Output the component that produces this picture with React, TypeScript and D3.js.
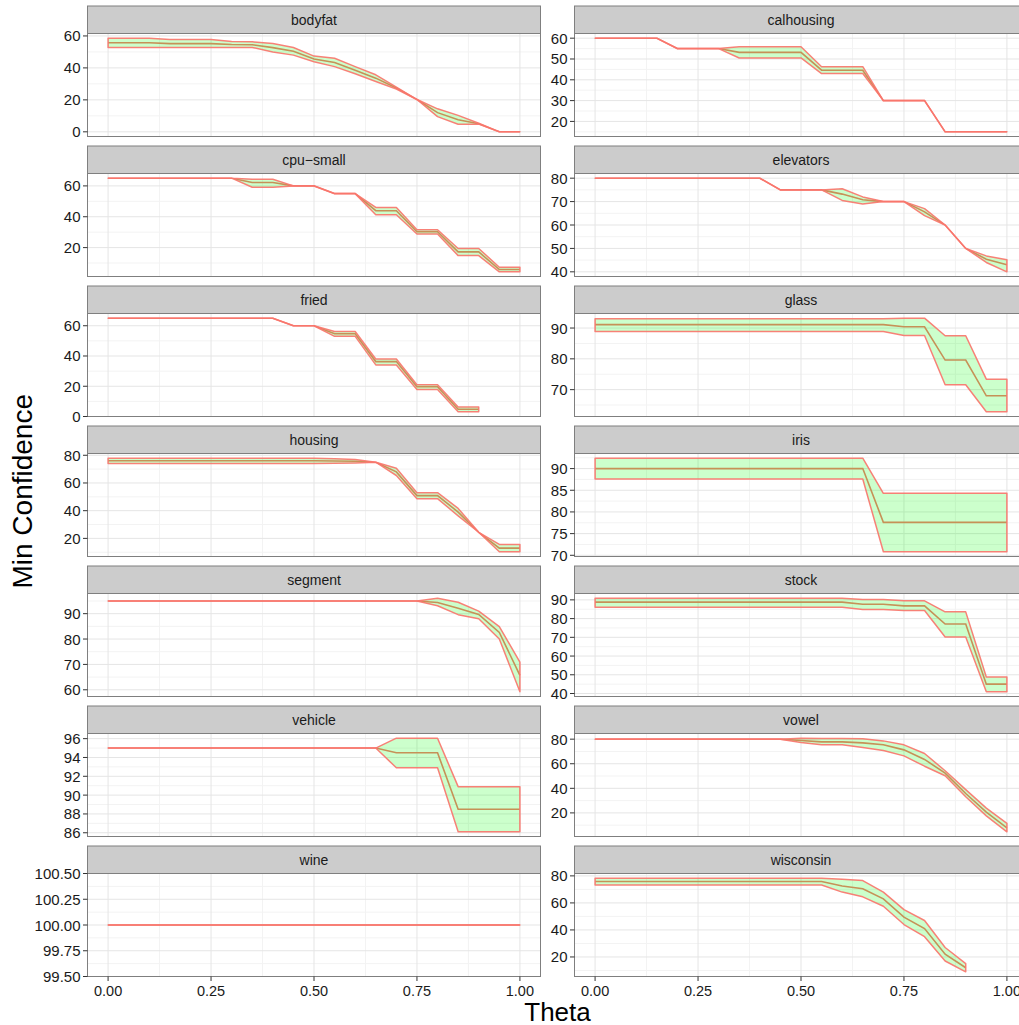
import React from 'react';
import * as d3 from 'd3';

// Theta values (x axis)
const THETA = [0, 0.05, 0.1, 0.15, 0.2, 0.25, 0.3, 0.35, 0.4, 0.45, 0.5, 0.55, 0.6, 0.65, 0.7, 0.75, 0.8, 0.85, 0.9, 0.95, 1.0];
const X_TICKS = [0, 0.25, 0.5, 0.75, 1.0];
const X_TICK_LABELS = ['0.00', '0.25', '0.50', '0.75', '1.00'];

// bodyfat
const bodyfatUpper = [58.6, 58.6, 58.6, 57.7, 57.7, 57.7, 56.5, 56.3, 55.3, 52.8, 47.4, 46.0, 40.8, 35.7, 28.0, 20.2, 14.4, 10.3, 5.4, 0, 0];
const bodyfatMean = [55.7, 55.7, 55.7, 55.2, 55.2, 55.2, 54.6, 54.5, 52.7, 50.4, 45.6, 43.4, 38.5, 33.6, 27.4, 20.2, 12.0, 7.5, 5.1, 0, 0];
const bodyfatLower = [52.8, 52.8, 52.8, 52.8, 52.8, 52.8, 52.8, 52.8, 50.0, 48.0, 43.9, 40.8, 36.3, 31.5, 26.8, 20.2, 9.5, 4.7, 4.8, 0, 0];
const bodyfatTicks = [0, 20, 40, 60];

// calhousing
const calhousingUpper = [60, 60, 60, 60, 55, 55, 55, 55.9, 55.9, 55.9, 55.9, 46.3, 46.3, 46.3, 30, 30, 30, 15, 15, 15, 15];
const calhousingMean = [60, 60, 60, 60, 55, 55, 55, 53.2, 53.2, 53.2, 53.2, 44.6, 44.6, 44.6, 30, 30, 30, 15, 15, 15, 15];
const calhousingLower = [60, 60, 60, 60, 55, 55, 55, 50.5, 50.5, 50.5, 50.5, 43.0, 43.0, 43.0, 30, 30, 30, 15, 15, 15, 15];
const calhousingTicks = [20, 30, 40, 50, 60];

// cpu-small
const cpuUpper = [65, 65, 65, 65, 65, 65, 65, 64.3, 64.3, 60, 60, 55, 55, 46.0, 46.0, 31.6, 31.6, 19.4, 19.4, 7.3, 7.3];
const cpuMean = [65, 65, 65, 65, 65, 65, 65, 62.2, 62.2, 60, 60, 55, 55, 43.9, 43.9, 30.3, 30.3, 17.2, 17.2, 5.8, 5.8];
const cpuLower = [65, 65, 65, 65, 65, 65, 65, 59.1, 59.1, 60, 60, 55, 55, 41.3, 41.3, 28.8, 28.8, 14.8, 14.8, 4.3, 4.3];
const cpuTicks = [20, 40, 60];

// elevators
const elevatorsUpper = [80, 80, 80, 80, 80, 80, 80, 80, 80, 75, 75, 75, 75.5, 72.0, 70, 70, 67.0, 60, 50, 46.8, 45.2];
const elevatorsMean = [80, 80, 80, 80, 80, 80, 80, 80, 80, 75, 75, 75, 73.2, 70.8, 70, 70, 65.6, 60, 50, 45.4, 43.0];
const elevatorsLower = [80, 80, 80, 80, 80, 80, 80, 80, 80, 75, 75, 75, 70.5, 69.0, 70, 70, 64.0, 60, 50, 44.0, 40.0];
const elevatorsTicks = [40, 50, 60, 70, 80];

// fried
const friedUpper = [65, 65, 65, 65, 65, 65, 65, 65, 65, 60, 60, 56.2, 56.2, 38.0, 38.0, 21.0, 21.0, 6.3, 6.3, null, null];
const friedMean = [65, 65, 65, 65, 65, 65, 65, 65, 65, 60, 60, 54.7, 54.7, 36.3, 36.3, 19.7, 19.7, 4.8, 4.8, null, null];
const friedLower = [65, 65, 65, 65, 65, 65, 65, 65, 65, 60, 60, 53.0, 53.0, 34.1, 34.1, 17.9, 17.9, 3.1, 3.1, null, null];
const friedTicks = [0, 20, 40, 60];

// glass
const glassUpper = [93, 93, 93, 93, 93, 93, 93, 93, 93, 93, 93, 93, 93, 93, 93, 93.2, 93.2, 87.5, 87.5, 73.4, 73.4];
const glassMean = [91.1, 91.1, 91.1, 91.1, 91.1, 91.1, 91.1, 91.1, 91.1, 91.1, 91.1, 91.1, 91.1, 91.1, 91.1, 90.4, 90.4, 79.6, 79.6, 68.0, 68.0];
const glassLower = [88.9, 88.9, 88.9, 88.9, 88.9, 88.9, 88.9, 88.9, 88.9, 88.9, 88.9, 88.9, 88.9, 88.9, 88.9, 87.6, 87.6, 71.6, 71.6, 62.8, 62.8];
const glassTicks = [70, 80, 90];

// housing
const housingUpper = [77.9, 77.9, 77.9, 77.9, 77.9, 77.9, 77.9, 77.9, 77.9, 77.9, 77.9, 77.5, 76.9, 75.0, 70.7, 53.0, 53.0, 41.6, 24.4, 15.6, 15.6];
const housingMean = [76.0, 76.0, 76.0, 76.0, 76.0, 76.0, 76.0, 76.0, 76.0, 76.0, 76.0, 75.9, 75.7, 75.0, 68.0, 50.9, 50.9, 39.0, 24.4, 13.0, 13.0];
const housingLower = [74.0, 74.0, 74.0, 74.0, 74.0, 74.0, 74.0, 74.0, 74.0, 74.0, 74.0, 74.2, 74.5, 75.0, 65.4, 48.7, 48.7, 36.3, 24.4, 10.3, 10.3];
const housingTicks = [20, 40, 60, 80];

// iris
const irisUpper = [92.4, 92.4, 92.4, 92.4, 92.4, 92.4, 92.4, 92.4, 92.4, 92.4, 92.4, 92.4, 92.4, 92.4, 84.3, 84.3, 84.3, 84.3, 84.3, 84.3, 84.3];
const irisMean = [90, 90, 90, 90, 90, 90, 90, 90, 90, 90, 90, 90, 90, 90, 77.6, 77.6, 77.6, 77.6, 77.6, 77.6, 77.6];
const irisLower = [87.6, 87.6, 87.6, 87.6, 87.6, 87.6, 87.6, 87.6, 87.6, 87.6, 87.6, 87.6, 87.6, 87.6, 70.8, 70.8, 70.8, 70.8, 70.8, 70.8, 70.8];
const irisTicks = [70, 75, 80, 85, 90];

// segment
const segmentUpper = [95, 95, 95, 95, 95, 95, 95, 95, 95, 95, 95, 95, 95, 95, 95, 95, 96.1, 94.5, 91.0, 84.9, 70.9];
const segmentMean = [95, 95, 95, 95, 95, 95, 95, 95, 95, 95, 95, 95, 95, 95, 95, 95, 94.4, 92.1, 89.7, 82.6, 65.7];
const segmentLower = [95, 95, 95, 95, 95, 95, 95, 95, 95, 95, 95, 95, 95, 95, 95, 95, 93.1, 89.6, 88.0, 80.0, 59.2];
const segmentTicks = [60, 70, 80, 90];

// stock
const stockUpper = [90.9, 90.9, 90.9, 90.9, 90.9, 90.9, 90.9, 90.9, 90.9, 90.9, 90.9, 90.9, 90.9, 90.2, 90.2, 89.5, 89.5, 83.6, 83.6, 48.8, 48.8];
const stockMean = [88.8, 88.8, 88.8, 88.8, 88.8, 88.8, 88.8, 88.8, 88.8, 88.8, 88.8, 88.8, 88.8, 87.7, 87.7, 86.8, 86.8, 77.1, 77.1, 45.0, 45.0];
const stockLower = [86.1, 86.1, 86.1, 86.1, 86.1, 86.1, 86.1, 86.1, 86.1, 86.1, 86.1, 86.1, 86.1, 84.9, 84.9, 84.3, 84.3, 70.2, 70.2, 40.9, 40.9];
const stockTicks = [40, 50, 60, 70, 80, 90];

// vehicle
const vehicleUpper = [95, 95, 95, 95, 95, 95, 95, 95, 95, 95, 95, 95, 95, 95, 96.05, 96.05, 96.05, 90.9, 90.9, 90.9, 90.9];
const vehicleMean = [95, 95, 95, 95, 95, 95, 95, 95, 95, 95, 95, 95, 95, 95, 94.5, 94.5, 94.5, 88.5, 88.5, 88.5, 88.5];
const vehicleLower = [95, 95, 95, 95, 95, 95, 95, 95, 95, 95, 95, 95, 95, 95, 92.9, 92.9, 92.9, 86.1, 86.1, 86.1, 86.1];
const vehicleTicks = [86, 88, 90, 92, 94, 96];

// vowel
const vowelUpper = [80, 80, 80, 80, 80, 80, 80, 80, 80, 80, 80.8, 80.5, 80.5, 80.3, 78.6, 75.4, 68.3, 54.3, 38.9, 23.9, 11.4];
const vowelMean = [80, 80, 80, 80, 80, 80, 80, 80, 80, 80, 78.9, 77.8, 77.8, 77.0, 75.4, 71.3, 63.5, 52.4, 35.8, 20.6, 7.9];
const vowelLower = [80, 80, 80, 80, 80, 80, 80, 80, 80, 80, 77.3, 75.4, 75.4, 73.2, 70.8, 66.4, 58.0, 50.2, 33.1, 17.6, 4.6];
const vowelTicks = [20, 40, 60, 80];

// wine
const wineUpper = [100, 100, 100, 100, 100, 100, 100, 100, 100, 100, 100, 100, 100, 100, 100, 100, 100, 100, 100, 100, 100];
const wineMean = [100, 100, 100, 100, 100, 100, 100, 100, 100, 100, 100, 100, 100, 100, 100, 100, 100, 100, 100, 100, 100];
const wineLower = [100, 100, 100, 100, 100, 100, 100, 100, 100, 100, 100, 100, 100, 100, 100, 100, 100, 100, 100, 100, 100];
const wineTicks = [99.5, 99.75, 100, 100.25, 100.5];

// wisconsin
const wisconsinUpper = [78.3, 78.3, 78.3, 78.3, 78.3, 78.3, 78.3, 78.3, 78.3, 78.3, 78.3, 78.3, 77.5, 76.5, 68.0, 55.0, 47.0, 27.0, 15.0, null, null];
const wisconsinMean = [75.8, 75.8, 75.8, 75.8, 75.8, 75.8, 75.8, 75.8, 75.8, 75.8, 75.8, 75.8, 72.5, 70.5, 63.0, 49.5, 41.0, 22.0, 12.0, null, null];
const wisconsinLower = [73.3, 73.3, 73.3, 73.3, 73.3, 73.3, 73.3, 73.3, 73.3, 73.3, 73.3, 73.3, 68.0, 64.5, 57.5, 44.0, 35.0, 17.0, 9.0, null, null];
const wisconsinTicks = [20, 40, 60, 80];

const PANELS = [
  { name: 'bodyfat', upper: bodyfatUpper, mean: bodyfatMean, lower: bodyfatLower, ticks: bodyfatTicks, dec: 0 },
  { name: 'calhousing', upper: calhousingUpper, mean: calhousingMean, lower: calhousingLower, ticks: calhousingTicks, dec: 0 },
  { name: 'cpu\u2212small', upper: cpuUpper, mean: cpuMean, lower: cpuLower, ticks: cpuTicks, dec: 0 },
  { name: 'elevators', upper: elevatorsUpper, mean: elevatorsMean, lower: elevatorsLower, ticks: elevatorsTicks, dec: 0 },
  { name: 'fried', upper: friedUpper, mean: friedMean, lower: friedLower, ticks: friedTicks, dec: 0 },
  { name: 'glass', upper: glassUpper, mean: glassMean, lower: glassLower, ticks: glassTicks, dec: 0 },
  { name: 'housing', upper: housingUpper, mean: housingMean, lower: housingLower, ticks: housingTicks, dec: 0 },
  { name: 'iris', upper: irisUpper, mean: irisMean, lower: irisLower, ticks: irisTicks, dec: 0 },
  { name: 'segment', upper: segmentUpper, mean: segmentMean, lower: segmentLower, ticks: segmentTicks, dec: 0 },
  { name: 'stock', upper: stockUpper, mean: stockMean, lower: stockLower, ticks: stockTicks, dec: 0 },
  { name: 'vehicle', upper: vehicleUpper, mean: vehicleMean, lower: vehicleLower, ticks: vehicleTicks, dec: 0 },
  { name: 'vowel', upper: vowelUpper, mean: vowelMean, lower: vowelLower, ticks: vowelTicks, dec: 0 },
  { name: 'wine', upper: wineUpper, mean: wineMean, lower: wineLower, ticks: wineTicks, dec: 2 },
  { name: 'wisconsin', upper: wisconsinUpper, mean: wisconsinMean, lower: wisconsinLower, ticks: wisconsinTicks, dec: 0 },
];

const W = 1019;
const H = 1025;
const COL_X = [87.5, 574.5];
const PANEL_W = 453;
const ROW_PITCH = 140;
const STRIP_TOP = 6;
const STRIP_H = 27.5;
const PANEL_H = 103;
const FONT = '"Liberation Sans", Arial, Helvetica, sans-serif';
const RED = '#F8766D';

function minorBreaks(ticks: number[], lo: number, hi: number) {
  if (ticks.length < 2) return [];
  const step = ticks[1] - ticks[0];
  const out: number[] = [];
  const cands = [ticks[0] - step / 2, ...ticks.map((t) => t + step / 2)];
  cands.forEach((c) => { if (c > lo && c < hi) out.push(c); });
  return out;
}

function Panel({ p, idx }: { p: any; idx: number }) {
  const col = idx % 2;
  const row = Math.floor(idx / 2);
  const x0 = COL_X[col];
  const stripTop = STRIP_TOP + row * ROW_PITCH;
  const top = stripTop + STRIP_H;
  const bottom = top + PANEL_H;
  const isBottom = row === 6;

  const rows = THETA.map((t, i) => ({ t, lo: p.lower[i], mid: p.mean[i], hi: p.upper[i] }));
  const valid = rows.filter((r) => r.lo != null && r.hi != null);
  const ymin = d3.min(valid, (r) => r.lo) as number;
  const ymax = d3.max(valid, (r) => r.hi) as number;
  let dlo: number, dhi: number;
  if (ymax - ymin < 1e-9) { dlo = ymin - 0.5; dhi = ymax + 0.5; }
  else { const e = (ymax - ymin) * 0.05; dlo = ymin - e; dhi = ymax + e; }

  const x = d3.scaleLinear().domain([-0.05, 1.05]).range([x0, x0 + PANEL_W]);
  const y = d3.scaleLinear().domain([dlo, dhi]).range([bottom, top]);

  const area = d3.area<any>().defined((r) => r.lo != null).x((r) => x(r.t)).y0((r) => y(r.lo)).y1((r) => y(r.hi));
  const line = d3.line<any>().defined((r) => r.mid != null).x((r) => x(r.t)).y((r) => y(r.mid));

  const yMinor = minorBreaks(p.ticks, dlo, dhi);
  const xMinor = minorBreaks(X_TICKS, -0.05, 1.05);
  const fmt = d3.format(`.${p.dec}f`);

  return (
    <g>
      <rect x={x0} y={stripTop} width={PANEL_W} height={STRIP_H} fill="#CCCCCC" stroke="#7F7F7F" strokeWidth={1} />
      <text x={x0 + PANEL_W / 2} y={stripTop + STRIP_H / 2} textAnchor="middle" dominantBaseline="central" fontSize={14} fill="#1A1A1A" fontFamily={FONT}>{p.name}</text>
      <rect x={x0} y={top} width={PANEL_W} height={PANEL_H} fill="#FFFFFF" />
      {yMinor.map((v) => <line key={'ym' + v} x1={x0} x2={x0 + PANEL_W} y1={y(v)} y2={y(v)} stroke="#F3F3F3" strokeWidth={1} />)}
      {xMinor.map((v) => <line key={'xm' + v} x1={x(v)} x2={x(v)} y1={top} y2={bottom} stroke="#F3F3F3" strokeWidth={1} />)}
      {p.ticks.map((v: number) => <line key={'yg' + v} x1={x0} x2={x0 + PANEL_W} y1={y(v)} y2={y(v)} stroke="#E5E5E5" strokeWidth={1} />)}
      {X_TICKS.map((v) => <line key={'xg' + v} x1={x(v)} x2={x(v)} y1={top} y2={bottom} stroke="#E5E5E5" strokeWidth={1} />)}
      <path d={line(rows) || ''} fill="none" stroke={RED} strokeWidth={1.6} />
      <path d={area(rows) || ''} fill="rgba(0,255,0,0.2)" stroke={RED} strokeWidth={1.5} strokeOpacity={0.92} strokeLinejoin="round" />
      <rect x={x0} y={top} width={PANEL_W} height={PANEL_H} fill="none" stroke="#7F7F7F" strokeWidth={1} />
      {p.ticks.map((v: number) => (
        <g key={'yt' + v}>
          <line x1={x0 - 4.5} x2={x0} y1={y(v)} y2={y(v)} stroke="#333333" strokeWidth={1} />
          <text x={x0 - 7} y={y(v)} textAnchor="end" dominantBaseline="central" fontSize={15} fill="#1A1A1A" fontFamily={FONT}>{fmt(v)}</text>
        </g>
      ))}
      {isBottom && X_TICKS.map((v, i) => (
        <g key={'xt' + v}>
          <line x1={x(v)} x2={x(v)} y1={bottom} y2={bottom + 4.5} stroke="#333333" strokeWidth={1} />
          <text x={x(v)} y={bottom + 14} textAnchor="middle" dominantBaseline="central" fontSize={14.5} fill="#1A1A1A" fontFamily={FONT}>{X_TICK_LABELS[i]}</text>
        </g>
      ))}
    </g>
  );
}

export default function App() {
  const plotLeft = COL_X[0];
  const plotRight = COL_X[1] + PANEL_W;
  const plotTop = STRIP_TOP;
  const plotBottom = STRIP_TOP + 6 * ROW_PITCH + STRIP_H + PANEL_H;
  return (
    <div style={{ position: 'absolute', left: 0, top: 0 }}>
      <svg width={W} height={H} style={{ display: 'block', background: '#FFFFFF' }}>
        <rect x={0} y={0} width={W} height={H} fill="#FFFFFF" />
        {PANELS.map((p, i) => <Panel key={p.name} p={p} idx={i} />)}
        <text x={(plotLeft + plotRight) / 2} y={plotBottom + 35} textAnchor="middle" dominantBaseline="central" fontSize={26} fill="#000000" fontFamily={FONT}>Theta</text>
        <text transform={`translate(22,${(plotTop + plotBottom) / 2}) rotate(-90)`} textAnchor="middle" dominantBaseline="central" fontSize={28} fill="#000000" fontFamily={FONT}>Min Confidence</text>
      </svg>
    </div>
  );
}
